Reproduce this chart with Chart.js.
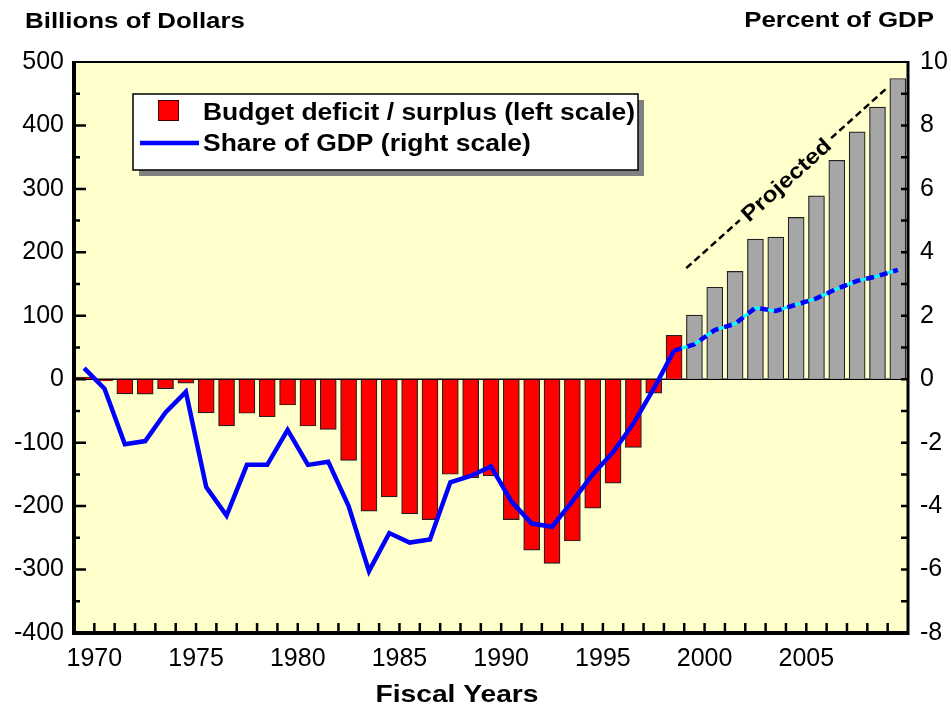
<!DOCTYPE html>
<html>
<head>
<meta charset="utf-8">
<script src="https://cdn.jsdelivr.net/npm/chart.js@4.4.1/dist/chart.umd.min.js"></script>
<style>
  html, body { margin: 0; padding: 0; background: #fff; }
  #wrap { width: 951px; height: 706px; }
</style>
</head>
<body>
<div id="wrap"><canvas id="budget-chart"></canvas></div>
<script>
// fiscal years, bars sit between year ticks
const years = [1969, 1970, 1971, 1972, 1973, 1974, 1975, 1976, 1977, 1978,
               1979, 1980, 1981, 1982, 1983, 1984, 1985, 1986, 1987, 1988,
               1989, 1990, 1991, 1992, 1993, 1994, 1995, 1996, 1997, 1998,
               1999, 2000, 2001, 2002, 2003, 2004, 2005, 2006, 2007, 2008, 2009];

// billions of dollars
const deficit = [3.2, -2.8, -23.0, -23.4, -14.9, -6.1, -53.2, -73.7, -53.7, -59.2,
                 -40.7, -73.8, -79.0, -128.0, -207.8, -185.4, -212.3, -221.2, -149.8, -155.2,
                 -152.5, -221.2, -269.4, -290.4, -255.0, -203.1, -163.9, -107.5, -21.9, 69.2,
                 101, 145, 170, 221, 224, 255, 289, 345, 390, 429, 474];

// percent of GDP
const gdpShare = [0.35, -0.3, -2.05, -1.95, -1.05, -0.4, -3.4, -4.3, -2.7, -2.7,
                  -1.6, -2.7, -2.6, -4.0, -6.05, -4.85, -5.15, -5.05, -3.25, -3.05,
                  -2.75, -3.85, -4.55, -4.65, -3.85, -3.0, -2.3, -1.4, -0.3, 0.9,
                  1.1, 1.55, 1.75, 2.25, 2.15, 2.35, 2.55, 2.85, 3.1, 3.25, 3.45];

const firstProjected = 1999;
const labelYears = [1970, 1975, 1980, 1985, 1990, 1995, 2000, 2005];
// "Projected" note, in (year, billions)
const projNote = [[1999.1, 175], [2009, 460]];

const FONT = '"Liberation Sans", Arial, Helvetica, sans-serif';
const RED = '#ff0000', GRAY = '#a6a6a6', BLUE = '#0000ff', CYAN = '#00ffff';

const barPts = years.map((yr, i) => ({ x: yr + 0.5, y: deficit[i] }));
const sharePts = years.map((yr, i) => ({ x: yr + 0.5, y: gdpShare[i] }));
const actualShare = sharePts.filter(p => p.x < firstProjected);
const projShare = sharePts.filter(p => p.x > firstProjected - 1);

// the original uses a wide bold face, stretch a little
function wideText(ctx, text, x, y, size, align) {
  ctx.save();
  ctx.font = 'bold ' + size + 'px ' + FONT;
  ctx.textBaseline = 'alphabetic';
  ctx.textAlign = 'left';
  const w = ctx.measureText(text).width * 1.15;
  let left = x;
  if (align === 'right') left = x - w;
  if (align === 'center') left = x - w / 2;
  ctx.translate(left, y);
  ctx.scale(1.15, 1);
  ctx.fillStyle = '#000';
  ctx.fillText(text, 0, 0);
  ctx.restore();
}

const framePlugin = {
  id: 'frame',
  beforeDraw(chart) {
    const { ctx, chartArea: a } = chart;
    ctx.save();
    ctx.fillStyle = '#ffffcc';
    ctx.fillRect(a.left, a.top, a.right - a.left, a.bottom - a.top);
    ctx.restore();
  },
  beforeDatasetsDraw(chart) {
    const { ctx, chartArea: a, scales } = chart;
    const y0 = scales.y.getPixelForValue(0);
    ctx.save();
    ctx.strokeStyle = '#000';
    ctx.lineWidth = 1.5;
    ctx.beginPath();
    ctx.moveTo(a.left, y0);
    ctx.lineTo(a.right, y0);
    ctx.stroke();
    ctx.restore();
  },
  afterDatasetsDraw(chart) {
    const { ctx, chartArea: a, scales: { x, y, y1 } } = chart;
    ctx.save();
    ctx.strokeStyle = '#000';
    ctx.lineCap = 'butt';

    // inward ticks
    ctx.lineWidth = 2.5;
    ctx.beginPath();
    for (let yr = 1970; yr <= 2009; yr++) {
      const px = x.getPixelForValue(yr);
      ctx.moveTo(px, a.bottom);
      ctx.lineTo(px, a.bottom - 10);
    }
    for (let v = -350; v < 500; v += 50) {
      const py = y.getPixelForValue(v);
      ctx.moveTo(a.left, py);
      ctx.lineTo(a.left + (v % 100 === 0 ? 12 : 6), py);
    }
    for (let v = -7; v < 10; v++) {
      const py = y1.getPixelForValue(v);
      ctx.moveTo(a.right, py);
      ctx.lineTo(a.right - 7, py);
    }
    ctx.stroke();

    // frame
    ctx.lineWidth = 2;
    ctx.beginPath();
    ctx.moveTo(a.left, a.top);
    ctx.lineTo(a.right, a.top);
    ctx.stroke();
    ctx.lineWidth = 4;
    ctx.beginPath();
    ctx.moveTo(a.left, a.top - 1);
    ctx.lineTo(a.left, a.bottom);
    ctx.lineTo(a.right, a.bottom);
    ctx.stroke();
    ctx.lineWidth = 3;
    ctx.beginPath();
    ctx.moveTo(a.right, a.top - 1);
    ctx.lineTo(a.right, a.bottom + 2);
    ctx.stroke();

    // "Projected" dashed note
    const p0 = { x: x.getPixelForValue(projNote[0][0]), y: y.getPixelForValue(projNote[0][1]) };
    const p1 = { x: x.getPixelForValue(projNote[1][0]), y: y.getPixelForValue(projNote[1][1]) };
    const len = Math.hypot(p1.x - p0.x, p1.y - p0.y);
    ctx.save();
    ctx.translate(p0.x, p0.y);
    ctx.rotate(Math.atan2(p1.y - p0.y, p1.x - p0.x));
    ctx.font = 'bold 21.5px ' + FONT;
    const tw = ctx.measureText('Projected').width * 1.15;
    const mid = len / 2 - 2;
    ctx.setLineDash([7, 4]);
    ctx.lineWidth = 2.5;
    ctx.beginPath();
    ctx.moveTo(0, 0);
    ctx.lineTo(mid - tw / 2 - 5, 0);
    ctx.moveTo(mid + tw / 2 + 5, 0);
    ctx.lineTo(len, 0);
    ctx.stroke();
    ctx.setLineDash([]);
    ctx.translate(mid - tw / 2, 8);
    ctx.scale(1.15, 1);
    ctx.fillStyle = '#000';
    ctx.fillText('Projected', 0, 0);
    ctx.restore();

    // legend box with drop shadow
    const lx = 133, ly = 94, lw = 505, lh = 76;
    ctx.fillStyle = '#808080';
    ctx.fillRect(lx + 6, ly + 6, lw, lh);
    ctx.fillStyle = '#fff';
    ctx.fillRect(lx, ly, lw, lh);
    ctx.lineWidth = 1.5;
    ctx.strokeStyle = '#000';
    ctx.strokeRect(lx, ly, lw, lh);
    ctx.fillStyle = RED;
    ctx.fillRect(158, 100, 21, 21);
    ctx.strokeStyle = '#400';
    ctx.lineWidth = 1;
    ctx.strokeRect(158.5, 100.5, 20, 20);
    ctx.strokeStyle = BLUE;
    ctx.lineWidth = 4.5;
    ctx.beginPath();
    ctx.moveTo(140, 143);
    ctx.lineTo(199, 143);
    ctx.stroke();
    ctx.restore();

    wideText(ctx, 'Budget deficit / surplus (left scale)', 203, 120, 23);
    wideText(ctx, 'Share of GDP (right scale)', 203, 151, 23);

    // axis titles
    wideText(ctx, 'Billions of Dollars', 25, 28, 22.5);
    wideText(ctx, 'Percent of GDP', 934, 27, 22.5, 'right');
    wideText(ctx, 'Fiscal Years', 457, 702, 24.5, 'center');
  }
};

const tickFont = { family: FONT, size: 25 };

new Chart(document.getElementById('budget-chart'), {
  type: 'bar',
  data: {
    datasets: [{
      type: 'line',
      label: 'Share of GDP (right scale)',
      data: actualShare,
      yAxisID: 'y1',
      borderColor: BLUE,
      borderWidth: 4.5,
      pointRadius: 0,
      order: 1
    }, {
      type: 'line',
      label: 'projected share (base)',
      data: projShare,
      yAxisID: 'y1',
      borderColor: CYAN,
      borderWidth: 3,
      pointRadius: 0,
      order: 2
    }, {
      type: 'line',
      label: 'projected share',
      data: projShare,
      yAxisID: 'y1',
      borderColor: BLUE,
      borderWidth: 4.5,
      borderDash: [8, 6],
      pointRadius: 0,
      order: 1
    }, {
      type: 'bar',
      label: 'Budget deficit / surplus (left scale)',
      data: barPts,
      yAxisID: 'y',
      backgroundColor: years.map(yr => yr >= firstProjected ? GRAY : RED),
      borderColor: '#222',
      borderWidth: 1.2,
      barThickness: 16,
      order: 3
    }]
  },
  options: {
    responsive: true,
    maintainAspectRatio: false,
    animation: false,
    layout: { padding: { top: 62 } },
    plugins: {
      legend: { display: false },
      tooltip: { enabled: false }
    },
    scales: {
      x: {
        type: 'linear',
        min: 1969,
        max: 2010,
        offset: false,
        grid: { drawOnChartArea: false, drawTicks: false },
        border: { display: false },
        ticks: {
          stepSize: 1,
          autoSkip: false,
          maxRotation: 0,
          padding: 11,
          color: '#000',
          font: tickFont,
          callback: v => labelYears.includes(v) ? String(v) : ''
        },
        afterFit: s => { s.height = 73; }
      },
      y: {
        position: 'left',
        min: -400,
        max: 500,
        grid: { drawOnChartArea: false, drawTicks: false },
        border: { display: false },
        ticks: { stepSize: 100, padding: 10, color: '#000', font: tickFont },
        afterFit: s => { s.width = 74; }
      },
      y1: {
        position: 'right',
        min: -8,
        max: 10,
        grid: { drawOnChartArea: false, drawTicks: false },
        border: { display: false },
        ticks: { stepSize: 2, padding: 12, color: '#000', font: tickFont },
        afterFit: s => { s.width = 43; }
      }
    }
  },
  plugins: [framePlugin]
});
</script>
</body>
</html>
